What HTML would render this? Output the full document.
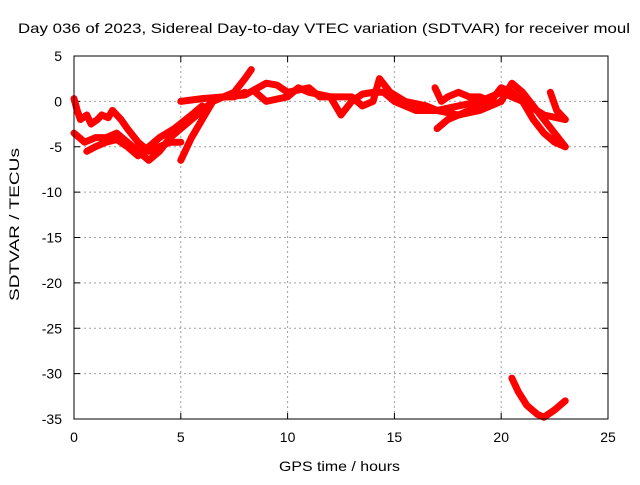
<!DOCTYPE html>
<html><head><meta charset="utf-8"><style>
body{margin:0;background:#fff}
svg text{font-family:"Liberation Sans",sans-serif;font-size:14px;fill:#000}
</style></head><body>
<svg id="c" width="640" height="480" xmlns="http://www.w3.org/2000/svg">
<rect width="640" height="480" fill="#fff"/>
<text x="18" y="33" font-size="15" textLength="612" lengthAdjust="spacingAndGlyphs">Day 036 of 2023, Sidereal Day-to-day VTEC variation (SDTVAR) for receiver moul</text>
<text x="279" y="471" font-size="15" textLength="121" lengthAdjust="spacingAndGlyphs">GPS time / hours</text>
<text transform="translate(19,301) rotate(-90)" font-size="15" textLength="153" lengthAdjust="spacingAndGlyphs">SDTVAR / TECUs</text>
<g id="grid"></g><g id="ticks"></g><g id="series"></g>
<rect x="74" y="56" width="534" height="363" fill="none" stroke="#000" stroke-width="1"/>
</svg>
<script>
const xTicks=[0,5,10,15,20,25];
const yTicks=[5,0,-5,-10,-15,-20,-25,-30,-35];
const s1=[[0,0.3],[0.15,-1],[0.3,-2],[0.6,-1.5],[0.8,-2.5],[1.1,-2],[1.3,-1.5],[1.6,-1.8],[1.8,-1],[2.2,-2],[2.5,-3],[3,-4.5],[3.5,-5.5],[4,-5],[4.5,-4.5],[5,-4.5]];
const s2=[[0,-3.5],[0.5,-4.5],[1,-4],[1.5,-4],[2,-3.5],[2.5,-4.5],[3,-5.5],[3.5,-6.5],[4,-5.5],[4.5,-4],[5,-3],[5.5,-2],[6,-1],[6.5,0],[7,0.5],[7.5,1],[8,2.5],[8.3,3.5]];
const s3=[[0.6,-5.5],[1,-5],[1.5,-4.5],[2,-4.2],[2.5,-5],[3,-6],[3.5,-5],[4,-4],[4.7,-3],[5.5,-1.5],[6,-0.5]];
const s4=[[5,-6.5],[5.5,-4],[6,-2],[6.5,0],[7,0.5],[7.5,0.5],[8,1]];
const s5=[[5,0],[6,0.3],[7,0.5],[8,0.7],[9,2],[9.5,1.8],[10,1],[11,1.5],[11.5,0.5],[12,0.5],[12.5,-1.5],[13,0],[13.5,0.8],[14,1],[14.5,1],[15,0],[16,-1],[17,-1],[18,-0.5],[19,0],[20,1],[21,0],[22,-1.5],[23,-2]];
const s6=[[8.5,1],[9,0],[10,0.5],[10.5,1.5],[11,1],[12,0.5],[12.5,0.5],[13,0.5],[13.5,-0.5],[14,0],[14.3,2.5],[14.8,1],[15.5,0],[16.5,-0.5],[17,-1],[18,-1.5],[18.5,-1],[19.5,0],[20,1.5],[20.5,1],[21,0],[21.5,-2],[22,-3.5],[22.5,-4.5],[23,-5]];
const s7=[[17,-3],[17.5,-2],[18,-1.5],[19,-1],[20,0],[20.5,2],[21,1],[22,-2],[22.5,-3.5],[23,-5]];
const s8=[[16.9,1.5],[17.2,0],[17.5,0.5],[18,1],[18.5,0.5],[19,0.5],[19.5,0]];
const s9=[[22.3,1],[22.6,-1],[23,-2]];
const s10=[[20.5,-30.5],[20.8,-32],[21.2,-33.5],[21.7,-34.5],[22,-34.8],[22.5,-34],[23,-33]];
const allSeries=[s1,s2,s3,s4,s5,s6,s7,s8,s9,s10];
const X=v=>74+v*(534/25), Y=v=>56+(5-v)*(363/40);
const NS="http://www.w3.org/2000/svg";
const grid=document.getElementById('grid'),ticks=document.getElementById('ticks'),ser=document.getElementById('series');
function mk(tag,attrs,parent){const e=document.createElementNS(NS,tag);for(const k in attrs)e.setAttribute(k,attrs[k]);parent.appendChild(e);return e;}
xTicks.forEach(t=>{const x=X(t);
 if(t>0&&t<25){const g=mk('line',{x1:x,x2:x,y1:56,y2:419,stroke:'#a0a0a0','stroke-dasharray':'2,3'},grid);
 
 }
 mk('line',{x1:x,x2:x,y1:419,y2:413,stroke:'#000'},ticks);mk('line',{x1:x,x2:x,y1:56,y2:62,stroke:'#000'},ticks);
 const l=mk('text',{x:x,y:442,'text-anchor':'middle'},ticks);l.textContent=t;
 
 });
yTicks.forEach(t=>{const y=Y(t);
 if(t<5&&t>-35){const g=mk('line',{x1:74,x2:608,y1:y,y2:y,stroke:'#a0a0a0','stroke-dasharray':'2,3'},grid);
 
 }
 mk('line',{x1:74,x2:80,y1:y,y2:y,stroke:'#000'},ticks);mk('line',{x1:608,x2:602,y1:y,y2:y,stroke:'#000'},ticks);
 const l=mk('text',{x:62,y:y+5,'text-anchor':'end'},ticks);l.textContent=t;
 
 });
allSeries.forEach((s,i)=>{const p=mk('polyline',{points:s.map(d=>X(d[0])+','+Y(d[1])).join(' '),fill:'none',stroke:'#ff0000','stroke-width':7,'stroke-linejoin':'round','stroke-linecap':'round'},ser);
 
 });
</script>
</body></html>
